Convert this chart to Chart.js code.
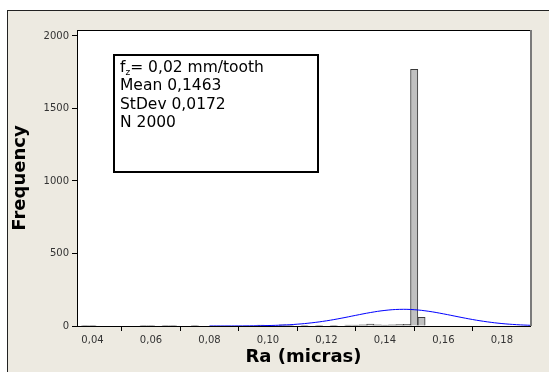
<!DOCTYPE html>
<html>
<head>
<meta charset="utf-8">
<script src="https://cdn.jsdelivr.net/npm/chart.js@4.4.1/dist/chart.umd.min.js"></script>
<style>
  html,body{margin:0;padding:0;background:#fff}
  #c{display:block}
</style>
</head>
<body>
<canvas id="c" width="549" height="372"></canvas>
<script>
// histogram bins (midpoints, width 0,0025) and counts
const binMid = [0.0375, 0.0400, 0.0575, 0.0600, 0.0650, 0.0675, 0.0750,
                0.0975, 0.1000, 0.1050, 0.1075, 0.1125, 0.1175, 0.1225,
                0.1275, 0.1300, 0.1325, 0.1350, 0.1375, 0.1400, 0.1425,
                0.1450, 0.1475, 0.1500, 0.1525];
const binCount = [5, 5, 5, 5, 5, 4, 4,
                  6, 3, 8, 4, 5, 5, 5,
                  6, 6, 8, 14, 8, 6, 8,
                  10, 12, 1770, 60];

// fitted normal curve
const curveX = [0.080, 0.085, 0.090, 0.095, 0.100, 0.105, 0.110, 0.115, 0.120,
                0.125, 0.130, 0.135, 0.140, 0.145, 0.150, 0.155, 0.160, 0.165,
                0.170, 0.175, 0.180, 0.185, 0.190];
const curveY = [0.1, 0.2, 0.5, 1.3, 3.1, 6.4, 12.4, 22, 35.7,
                53.4, 73.4, 92.7, 107.5, 114.7, 112.4, 101.2, 83.8, 63.7,
                44.5, 28.6, 16.9, 9.2, 4.6];

const xTicks = [0.04, 0.06, 0.08, 0.10, 0.12, 0.14, 0.16, 0.18];
const yTicks = [0, 500, 1000, 1500, 2000];
const statLines = ['= 0,02 mm/tooth', 'Mean 0,1463', 'StDev 0,0172', 'N 2000'];

const TICKFONT = {family:'DejaVu Sans', size:10};
const TITLEFONT = {family:'DejaVu Sans', size:18, weight:'bold'};

const frame = {
  id:'frame',
  beforeDraw(chart){
    const ctx=chart.ctx, a=chart.chartArea, W=chart.width, H=chart.height;
    ctx.save();
    ctx.fillStyle='#fff'; ctx.fillRect(0,0,W,H);
    ctx.fillStyle='#EDEAE1'; ctx.fillRect(7,10,W-7,H-10);
    ctx.strokeStyle='#222'; ctx.lineWidth=1;
    ctx.beginPath(); ctx.moveTo(7,10.5); ctx.lineTo(W,10.5);
    ctx.moveTo(7.5,10); ctx.lineTo(7.5,H); ctx.stroke();
    ctx.fillStyle='#fff'; ctx.fillRect(a.left,a.top,a.width,a.height);
    ctx.strokeStyle='#000';
    ctx.beginPath(); ctx.moveTo(a.left,a.top+0.5); ctx.lineTo(a.right,a.top+0.5); ctx.stroke();
    ctx.strokeStyle='#7a7a7a'; ctx.lineWidth=2;
    ctx.beginPath(); ctx.moveTo(a.right+1,a.top); ctx.lineTo(a.right+1,a.bottom); ctx.stroke();
    ctx.restore();
  },
  afterDraw(chart){
    // stats box
    const ctx=chart.ctx;
    ctx.save();
    ctx.fillStyle='#fff';
    ctx.fillRect(113,54,206,119);
    ctx.strokeStyle='#000'; ctx.lineWidth=2;
    ctx.strokeRect(114,55,204,117);
    ctx.fillStyle='#000';
    ctx.textBaseline='alphabetic';
    ctx.font='15.5px "DejaVu Sans"';
    let y=72;
    ctx.fillText('f',120,y);
    let fw=ctx.measureText('f').width;
    ctx.font='9px "DejaVu Sans"';
    ctx.fillText('z',120+fw,y+3);
    let zw=ctx.measureText('z').width;
    ctx.font='15.5px "DejaVu Sans"';
    ctx.fillText(statLines[0],120+fw+zw,y);
    for(let i=1;i<statLines.length;i++){ ctx.fillText(statLines[i],120,y+i*18.3); }
    ctx.restore();
  }
};

new Chart(document.getElementById('c').getContext('2d'), {
  type:'bar',
  data:{ datasets:[
    { type:'line', data:curveX.map((x,i)=>({x:x,y:curveY[i]})), borderColor:'#0000FF',
      borderWidth:1, pointRadius:0, tension:0.4, fill:false },
    { type:'bar', data:binMid.map((x,i)=>({x:x,y:binCount[i]})), backgroundColor:'#C0C0C0',
      borderColor:'#3a3a3a', borderWidth:1, barPercentage:1, categoryPercentage:1 }
  ]},
  options:{
    responsive:false, animation:false,
    layout:{ padding:{left:0, top:30, right:19, bottom:0} },
    plugins:{ legend:{display:false}, tooltip:{enabled:false} },
    scales:{
      x:{ type:'linear', min:0.0347, max:0.1896, offset:false,
        afterBuildTicks(s){ s.ticks = xTicks.map(v=>({value:v})); },
        afterFit(s){ s.height = 46; },
        grid:{ drawOnChartArea:false, drawTicks:true, tickLength:5, color:'#000' },
        border:{ display:true, color:'#000' },
        ticks:{ color:'#333', font:TICKFONT, padding:3, maxRotation:0,
          callback:v=>v.toFixed(2).replace('.', ',') },
        title:{ display:true, text:'Ra (micras)', color:'#000', font:TITLEFONT, padding:{top:0,bottom:4} }
      },
      y:{ min:0, max:2041,
        afterBuildTicks(s){ s.ticks = yTicks.map(v=>({value:v})); },
        afterFit(s){ s.width = 77; },
        grid:{ drawOnChartArea:false, drawTicks:true, tickLength:5, color:'#000' },
        border:{ display:true, color:'#000' },
        ticks:{ color:'#333', font:TICKFONT, padding:3, callback:v=>String(v) },
        title:{ display:true, text:'Frequency', color:'#000', font:TITLEFONT, padding:{top:10,bottom:0} }
      }
    }
  },
  plugins:[frame]
});
</script>
</body>
</html>
